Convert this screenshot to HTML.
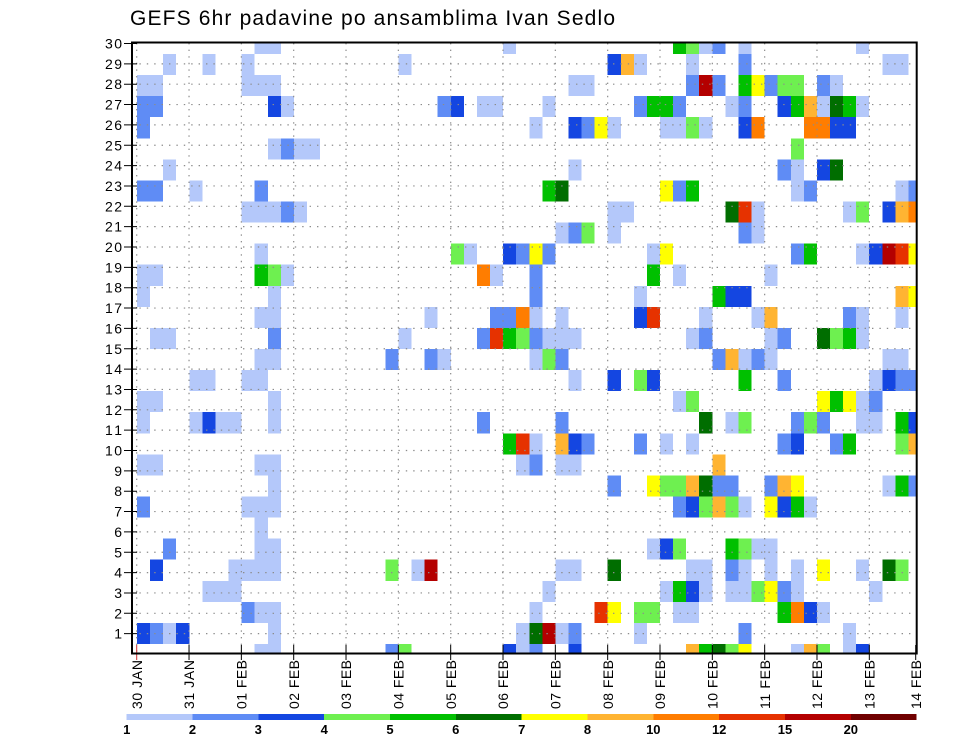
<!DOCTYPE html>
<html>
<head>
<meta charset="utf-8">
<style>
html,body{margin:0;padding:0;background:#fff;}
svg{display:block;}
text{font-family:"Liberation Sans",sans-serif;fill:#000;}
.a{fill:#b4c8fa}.b{fill:#5f8cf5}.c{fill:#1446e1}.d{fill:#6ef050}.e{fill:#00c000}.f{fill:#006e00}
.g{fill:#ffff00}.h{fill:#ffb432}.j{fill:#ff7d00}.m{fill:#e63200}.n{fill:#b40000}.p{fill:#700000}
</style>
</head>
<body>
<svg width="960" height="742" viewBox="0 0 960 742" xmlns="http://www.w3.org/2000/svg">
<defs><clipPath id="pc"><rect x="132" y="42.5" width="784.7" height="611"/></clipPath></defs>
<rect width="960" height="742" fill="#fff"/>

<text x="130" y="25" font-size="21" textLength="485" lengthAdjust="spacing">GEFS 6hr padavine po ansamblima Ivan Sedlo</text>

<g clip-path="url(#pc)">
<g transform="translate(137 32.93) scale(13.075 21.07)" shape-rendering="crispEdges">
<path class="a" d="M9 0h2v1h-2zM28 0h1v1h-1zM43 0h1v1h-1zM46 0h1v1h-1zM55 0h1v1h-1zM2 1h1v1h-1zM5 1h1v1h-1zM8 1h1v1h-1zM20 1h1v1h-1zM38 1h1v1h-1zM42 1h1v1h-1zM57 1h2v1h-2zM0 2h2v1h-2zM8 2h3v1h-3zM33 2h2v1h-2zM53 2h1v1h-1zM11 3h1v1h-1zM26 3h2v1h-2zM31 3h1v1h-1zM45 3h1v1h-1zM52 3h1v1h-1zM55 3h1v1h-1zM30 4h1v1h-1zM36 4h1v1h-1zM40 4h2v1h-2zM43 4h1v1h-1zM10 5h1v1h-1zM12 5h2v1h-2zM2 6h1v1h-1zM33 6h1v1h-1zM50 6h1v1h-1zM4 7h1v1h-1zM50 7h1v1h-1zM58 7h1v1h-1zM8 8h3v1h-3zM12 8h1v1h-1zM36 8h2v1h-2zM47 8h1v1h-1zM54 8h1v1h-1zM32 9h1v1h-1zM36 9h1v1h-1zM47 9h1v1h-1zM9 10h1v1h-1zM25 10h1v1h-1zM39 10h1v1h-1zM55 10h1v1h-1zM0 11h2v1h-2zM11 11h1v1h-1zM27 11h1v1h-1zM41 11h1v1h-1zM48 11h1v1h-1zM0 12h1v1h-1zM10 12h1v1h-1zM38 12h1v1h-1zM9 13h2v1h-2zM22 13h1v1h-1zM30 13h1v1h-1zM32 13h1v1h-1zM43 13h1v1h-1zM47 13h1v1h-1zM55 13h1v1h-1zM58 13h1v1h-1zM1 14h2v1h-2zM20 14h1v1h-1zM31 14h3v1h-3zM42 14h1v1h-1zM48 14h1v1h-1zM55 14h1v1h-1zM9 15h2v1h-2zM23 15h1v1h-1zM30 15h1v1h-1zM46 15h1v1h-1zM48 15h1v1h-1zM57 15h2v1h-2zM4 16h2v1h-2zM8 16h2v1h-2zM33 16h1v1h-1zM56 16h1v1h-1zM0 17h2v1h-2zM10 17h1v1h-1zM41 17h1v1h-1zM55 17h1v1h-1zM0 18h1v1h-1zM4 18h1v1h-1zM6 18h2v1h-2zM10 18h1v1h-1zM45 18h1v1h-1zM55 18h2v1h-2zM30 19h1v1h-1zM40 19h1v1h-1zM42 19h1v1h-1zM0 20h2v1h-2zM9 20h2v1h-2zM29 20h1v1h-1zM32 20h2v1h-2zM10 21h1v1h-1zM57 21h1v1h-1zM8 22h3v1h-3zM46 22h1v1h-1zM51 22h1v1h-1zM9 23h1v1h-1zM9 24h2v1h-2zM39 24h1v1h-1zM47 24h2v1h-2zM7 25h4v1h-4zM21 25h1v1h-1zM32 25h2v1h-2zM42 25h2v1h-2zM46 25h1v1h-1zM48 25h1v1h-1zM50 25h1v1h-1zM55 25h1v1h-1zM5 26h3v1h-3zM31 26h1v1h-1zM40 26h1v1h-1zM43 26h1v1h-1zM45 26h2v1h-2zM50 26h1v1h-1zM56 26h1v1h-1zM9 27h2v1h-2zM30 27h1v1h-1zM41 27h2v1h-2zM52 27h1v1h-1zM2 28h1v1h-1zM10 28h1v1h-1zM29 28h1v1h-1zM32 28h1v1h-1zM38 28h1v1h-1zM54 28h1v1h-1zM9 29h2v1h-2zM29 29h1v1h-1zM50 29h1v1h-1zM54 29h1v1h-1z"/>
<path class="b" d="M44 0h1v1h-1zM46 1h1v1h-1zM42 2h1v1h-1zM44 2h1v1h-1zM48 2h1v1h-1zM52 2h1v1h-1zM0 3h2v1h-2zM23 3h1v1h-1zM38 3h1v1h-1zM41 3h1v1h-1zM46 3h1v1h-1zM0 4h1v1h-1zM34 4h1v1h-1zM11 5h1v1h-1zM49 6h1v1h-1zM0 7h2v1h-2zM9 7h1v1h-1zM41 7h1v1h-1zM51 7h1v1h-1zM59 7h1v1h-1zM11 8h1v1h-1zM33 9h1v1h-1zM46 9h1v1h-1zM29 10h1v1h-1zM31 10h1v1h-1zM50 10h1v1h-1zM30 11h1v1h-1zM30 12h1v1h-1zM27 13h2v1h-2zM54 13h1v1h-1zM10 14h1v1h-1zM26 14h1v1h-1zM30 14h1v1h-1zM43 14h1v1h-1zM49 14h1v1h-1zM19 15h1v1h-1zM22 15h1v1h-1zM32 15h1v1h-1zM44 15h1v1h-1zM47 15h1v1h-1zM49 16h1v1h-1zM58 16h2v1h-2zM56 17h1v1h-1zM26 18h1v1h-1zM32 18h1v1h-1zM50 18h1v1h-1zM52 18h1v1h-1zM34 19h1v1h-1zM38 19h1v1h-1zM49 19h1v1h-1zM53 19h1v1h-1zM30 20h1v1h-1zM36 21h1v1h-1zM44 21h2v1h-2zM48 21h1v1h-1zM59 21h1v1h-1zM0 22h1v1h-1zM41 22h1v1h-1zM2 24h1v1h-1zM45 25h1v1h-1zM49 26h1v1h-1zM8 27h1v1h-1zM1 28h1v1h-1zM33 28h1v1h-1zM46 28h1v1h-1zM19 29h1v1h-1zM30 29h1v1h-1z"/>
<path class="c" d="M36 1h1v1h-1zM10 3h1v1h-1zM24 3h1v1h-1zM49 3h1v1h-1zM33 4h1v1h-1zM46 4h1v1h-1zM53 4h2v1h-2zM52 6h1v1h-1zM57 8h1v1h-1zM28 10h1v1h-1zM56 10h1v1h-1zM45 12h2v1h-2zM38 13h1v1h-1zM36 16h1v1h-1zM39 16h1v1h-1zM57 16h1v1h-1zM5 18h1v1h-1zM59 18h1v1h-1zM33 19h1v1h-1zM50 19h1v1h-1zM42 22h1v1h-1zM49 22h1v1h-1zM40 24h1v1h-1zM1 25h1v1h-1zM42 26h1v1h-1zM51 27h1v1h-1zM0 28h1v1h-1zM3 28h1v1h-1zM28 29h1v1h-1zM33 29h1v1h-1zM55 29h1v1h-1z"/>
<path class="d" d="M42 0h1v1h-1zM49 2h2v1h-2zM42 4h1v1h-1zM50 5h1v1h-1zM55 8h1v1h-1zM34 9h1v1h-1zM24 10h1v1h-1zM10 11h1v1h-1zM29 14h1v1h-1zM53 14h1v1h-1zM31 15h1v1h-1zM38 16h1v1h-1zM42 17h1v1h-1zM46 18h1v1h-1zM51 18h1v1h-1zM58 19h1v1h-1zM40 21h2v1h-2zM43 22h1v1h-1zM45 22h1v1h-1zM41 24h1v1h-1zM46 24h1v1h-1zM19 25h1v1h-1zM58 25h1v1h-1zM47 26h1v1h-1zM38 27h2v1h-2zM20 29h1v1h-1zM45 29h1v1h-1zM52 29h1v1h-1z"/>
<path class="e" d="M41 0h1v1h-1zM46 2h1v1h-1zM39 3h2v1h-2zM50 3h1v1h-1zM54 3h1v1h-1zM31 7h1v1h-1zM42 7h1v1h-1zM51 10h1v1h-1zM9 11h1v1h-1zM39 11h1v1h-1zM44 12h1v1h-1zM28 14h1v1h-1zM54 14h1v1h-1zM46 16h1v1h-1zM53 17h1v1h-1zM58 18h1v1h-1zM28 19h1v1h-1zM54 19h1v1h-1zM58 21h1v1h-1zM50 22h1v1h-1zM45 24h1v1h-1zM41 26h1v1h-1zM49 27h1v1h-1zM43 29h1v1h-1z"/>
<path class="f" d="M53 3h1v1h-1zM53 6h1v1h-1zM32 7h1v1h-1zM45 8h1v1h-1zM52 14h1v1h-1zM43 18h1v1h-1zM43 21h1v1h-1zM36 25h1v1h-1zM57 25h1v1h-1zM30 28h1v1h-1zM44 29h1v1h-1z"/>
<path class="g" d="M47 2h1v1h-1zM35 4h1v1h-1zM40 7h1v1h-1zM30 10h1v1h-1zM40 10h1v1h-1zM59 10h1v1h-1zM59 12h1v1h-1zM52 17h1v1h-1zM54 17h1v1h-1zM39 21h1v1h-1zM50 21h1v1h-1zM48 22h1v1h-1zM52 25h1v1h-1zM48 26h1v1h-1zM36 27h1v1h-1zM46 29h1v1h-1z"/>
<path class="h" d="M37 1h1v1h-1zM51 3h1v1h-1zM58 8h1v1h-1zM58 12h1v1h-1zM48 13h1v1h-1zM45 15h1v1h-1zM32 19h1v1h-1zM59 19h1v1h-1zM44 20h1v1h-1zM42 21h1v1h-1zM49 21h1v1h-1zM44 22h1v1h-1zM42 29h1v1h-1zM51 29h1v1h-1z"/>
<path class="j" d="M47 4h1v1h-1zM51 4h2v1h-2zM59 8h1v1h-1zM26 11h1v1h-1zM29 13h1v1h-1zM50 27h1v1h-1z"/>
<path class="m" d="M46 8h1v1h-1zM58 10h1v1h-1zM39 13h1v1h-1zM27 14h1v1h-1zM29 19h1v1h-1zM35 27h1v1h-1z"/>
<path class="n" d="M43 2h1v1h-1zM57 10h1v1h-1zM22 25h1v1h-1zM31 28h1v1h-1z"/>
</g>
</g>

<!-- dotted grid -->
<path fill="none" stroke="#8c8c8c" stroke-width="1.2" stroke-dasharray="1.4 6" d="M132 63.85H916M132 84.2H916M132 104.55H916M132 124.9H916M132 145.25H916M132 165.6H916M132 185.95H916M132 206.3H916M132 226.65H916M132 247H916M132 267.35H916M132 287.7H916M132 308.05H916M132 328.4H916M132 348.75H916M132 369.1H916M132 389.45H916M132 409.8H916M132 430.15H916M132 450.5H916M132 470.85H916M132 491.2H916M132 511.55H916M132 531.9H916M132 552.25H916M132 572.6H916M132 592.95H916M132 613.3H916M132 633.65H916"/>
<path fill="none" stroke="#8c8c8c" stroke-width="1.2" stroke-dasharray="1.4 5.2" d="M136.7 43V653M189.03 43V653M241.36 43V653M293.69 43V653M346.02 43V653M398.35 43V653M450.68 43V653M503.01 43V653M555.34 43V653M607.67 43V653M660 43V653M712.33 43V653M764.66 43V653M816.99 43V653M869.32 43V653"/>

<!-- y ticks -->
<path stroke="#000" stroke-width="1" fill="none" d="M124 43.5H137M124 63.85H137M124 84.2H137M124 104.55H137M124 124.9H137M124 145.25H137M124 165.6H137M124 185.95H137M124 206.3H137M124 226.65H137M124 247H137M124 267.35H137M124 287.7H137M124 308.05H137M124 328.4H137M124 348.75H137M124 369.1H137M124 389.45H137M124 409.8H137M124 430.15H137M124 450.5H137M124 470.85H137M124 491.2H137M124 511.55H137M124 531.9H137M124 552.25H137M124 572.6H137M124 592.95H137M124 613.3H137M124 633.65H137"/>
<!-- x ticks -->
<path stroke="#000" stroke-width="1" fill="none" d="M189.03 645V660M241.36 645V660M293.69 645V660M346.02 645V660M398.35 645V660M450.68 645V660M503.01 645V660M555.34 645V660M607.67 645V660M660 645V660M712.33 645V660M764.66 645V660M816.99 645V660M869.32 645V660M915.7 645V660"/>
<path stroke="#d03030" stroke-width="1" fill="none" d="M136.7 645V660M131 653.5H142"/>

<!-- frame -->
<rect x="132" y="42.5" width="784.7" height="611" fill="none" stroke="#000" stroke-width="2"/>

<!-- y labels -->
<g font-size="14" text-anchor="end">
<text x="122" y="48.5" textLength="17">30</text>
<text x="122" y="68.85" textLength="17">29</text>
<text x="122" y="89.2" textLength="17">28</text>
<text x="122" y="109.55" textLength="17">27</text>
<text x="122" y="129.9" textLength="17">26</text>
<text x="122" y="150.25" textLength="17">25</text>
<text x="122" y="170.6" textLength="17">24</text>
<text x="122" y="190.95" textLength="17">23</text>
<text x="122" y="211.3" textLength="17">22</text>
<text x="122" y="231.65" textLength="17">21</text>
<text x="122" y="252" textLength="17">20</text>
<text x="122" y="272.35" textLength="17">19</text>
<text x="122" y="292.7" textLength="17">18</text>
<text x="122" y="313.05" textLength="17">17</text>
<text x="122" y="333.4" textLength="17">16</text>
<text x="122" y="353.75" textLength="17">15</text>
<text x="122" y="374.1" textLength="17">14</text>
<text x="122" y="394.45" textLength="17">13</text>
<text x="122" y="414.8" textLength="17">12</text>
<text x="122" y="435.15" textLength="17">11</text>
<text x="122" y="455.5" textLength="17">10</text>
<text x="122" y="475.85">9</text>
<text x="122" y="496.2">8</text>
<text x="122" y="516.55">7</text>
<text x="122" y="536.9">6</text>
<text x="122" y="557.25">5</text>
<text x="122" y="577.6">4</text>
<text x="122" y="597.95">3</text>
<text x="122" y="618.3">2</text>
<text x="122" y="638.65">1</text>
</g>

<!-- x labels (rotated) -->
<g font-size="14">
<text transform="translate(141.9 709) rotate(-90)" textLength="49" lengthAdjust="spacing">30 JAN</text>
<text transform="translate(194.2 709) rotate(-90)" textLength="49" lengthAdjust="spacing">31 JAN</text>
<text transform="translate(246.5 709) rotate(-90)" textLength="49" lengthAdjust="spacing">01 FEB</text>
<text transform="translate(298.9 709) rotate(-90)" textLength="49" lengthAdjust="spacing">02 FEB</text>
<text transform="translate(351.2 709) rotate(-90)" textLength="49" lengthAdjust="spacing">03 FEB</text>
<text transform="translate(403.5 709) rotate(-90)" textLength="49" lengthAdjust="spacing">04 FEB</text>
<text transform="translate(455.9 709) rotate(-90)" textLength="49" lengthAdjust="spacing">05 FEB</text>
<text transform="translate(508.2 709) rotate(-90)" textLength="49" lengthAdjust="spacing">06 FEB</text>
<text transform="translate(560.5 709) rotate(-90)" textLength="49" lengthAdjust="spacing">07 FEB</text>
<text transform="translate(612.9 709) rotate(-90)" textLength="49" lengthAdjust="spacing">08 FEB</text>
<text transform="translate(665.2 709) rotate(-90)" textLength="49" lengthAdjust="spacing">09 FEB</text>
<text transform="translate(717.5 709) rotate(-90)" textLength="49" lengthAdjust="spacing">10 FEB</text>
<text transform="translate(769.9 709) rotate(-90)" textLength="49" lengthAdjust="spacing">11 FEB</text>
<text transform="translate(822.2 709) rotate(-90)" textLength="49" lengthAdjust="spacing">12 FEB</text>
<text transform="translate(874.5 709) rotate(-90)" textLength="49" lengthAdjust="spacing">13 FEB</text>
<text transform="translate(920.9 709) rotate(-90)" textLength="49" lengthAdjust="spacing">14 FEB</text>
</g>

<!-- colorbar -->
<g shape-rendering="crispEdges">
<rect class="a" x="126.7" y="714" width="65.9" height="6"/>
<rect class="b" x="192.5" y="714" width="65.9" height="6"/>
<rect class="c" x="258.3" y="714" width="65.9" height="6"/>
<rect class="d" x="324.2" y="714" width="65.9" height="6"/>
<rect class="e" x="390" y="714" width="65.9" height="6"/>
<rect class="f" x="455.8" y="714" width="65.9" height="6"/>
<rect class="g" x="521.7" y="714" width="65.9" height="6"/>
<rect class="h" x="587.5" y="714" width="65.9" height="6"/>
<rect class="j" x="653.3" y="714" width="65.9" height="6"/>
<rect class="m" x="719.2" y="714" width="65.9" height="6"/>
<rect class="n" x="785" y="714" width="65.9" height="6"/>
<rect class="p" x="850.8" y="714" width="65.9" height="6"/>
</g>
<g font-size="13" text-anchor="middle" font-weight="bold">
<text x="126.7" y="734">1</text>
<text x="192.5" y="734">2</text>
<text x="258.3" y="734">3</text>
<text x="324.2" y="734">4</text>
<text x="390" y="734">5</text>
<text x="455.8" y="734">6</text>
<text x="521.7" y="734">7</text>
<text x="587.5" y="734">8</text>
<text x="653.3" y="734">10</text>
<text x="719.2" y="734">12</text>
<text x="785" y="734">15</text>
<text x="850.8" y="734">20</text>
</g>
</svg>
</body>
</html>
